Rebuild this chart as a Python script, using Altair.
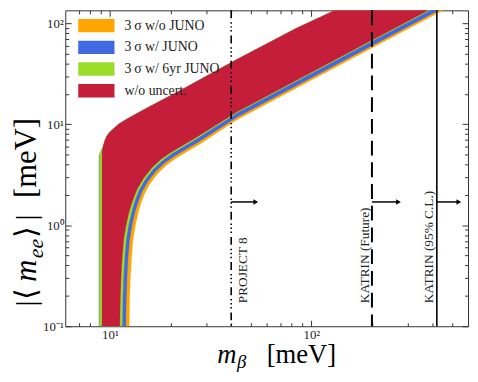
import altair as alt
import pandas as pd

# ---------------- data ----------------
band_names = ["3\u2009σ w/o JUNO", "3\u2009σ w/ JUNO", "3\u2009σ w/ 6yr JUNO", "w/o uncert."]
band_colors = ["#FFA500", "#4169E1", "#9BDC2A", "#C41E3A"]

# left (vertical) edge of every band and <m_ee> at its top-left corner
left_edge_m = [8.83, 8.83, 8.87, 9.14]
corner_mee = [4.94, 4.94, 5.0, 5.29]

# upper boundary (common to all bands)
upper_m = [9.26, 9.43, 9.67, 10.0, 10.46, 11.07, 12.4, 15.53, 21.79, 42.9, 84.4, 173.0]
upper_mee = [6.05, 6.85, 7.67, 8.39, 9.08, 10.05, 11.5, 14.73, 21.0, 43.9, 89.2, 173.2]

# lower boundaries
lower_m_red = [11.19, 11.26, 11.35, 11.49, 11.71, 12.05, 12.46, 12.96, 13.61, 14.68, 16.12, 17.98, 20.21, 23.05, 26.31, 42.9, 200.7, 601.6]
lower_mee_red = [0.1, 0.189, 0.297, 0.465, 0.73, 1.02, 1.37, 1.76, 2.25, 2.91, 3.69, 4.52, 5.32, 6.19, 7.2, 13.31, 68.2, 216.9]
lower_m_green = [11.51, 11.58, 11.67, 11.82, 12.05, 12.4, 12.82, 13.27, 13.9, 14.95, 16.38, 18.22, 20.4, 23.24, 26.5, 42.9, 200.7, 601.6]
lower_mee_green = [0.1, 0.189, 0.297, 0.465, 0.73, 1.023, 1.37, 1.727, 2.203, 2.84, 3.584, 4.378, 5.165, 6.025, 7.036, 13.01, 66.7, 212.1]
lower_m_blue = [11.98, 12.05, 12.15, 12.29, 12.53, 12.89, 13.34, 13.78, 14.41, 15.45, 16.86, 18.68, 20.85, 23.72, 27.1, 42.9, 200.7, 601.6]
lower_mee_blue = [0.1, 0.189, 0.297, 0.465, 0.73, 1.023, 1.37, 1.682, 2.128, 2.717, 3.398, 4.12, 4.826, 5.604, 6.541, 11.76, 60.3, 191.7]
lower_m_orange = [12.47, 12.53, 12.63, 12.79, 13.03, 13.41, 13.87, 14.24, 14.87, 15.89, 17.27, 19.05, 21.2, 24.07, 27.51, 42.9, 200.7, 601.6]
lower_mee_orange = [0.1, 0.189, 0.297, 0.465, 0.73, 1.023, 1.37, 1.643, 2.064, 2.616, 3.251, 3.923, 4.584, 5.328, 6.237, 11.12, 57.0, 181.9]

lower_m = [lower_m_orange, lower_m_blue, lower_m_green, lower_m_red]
lower_mee = [lower_mee_orange, lower_mee_blue, lower_mee_green, lower_mee_red]

# experimental limits
limit_names = ["PROJECT 8", "KATRIN (Future)", "KATRIN (95% C.L.)"]
limit_m = [40.0, 200.0, 420.0]
arrow_end_m = [53.0, 271.0, 540.0]
arrow_mee = 1.7
label_mee = 0.169

# ---------------- build polygons ----------------
rows = []
for k, name in enumerate(band_names):
    pts = [(left_edge_m[k], 0.1), (left_edge_m[k], corner_mee[k])]
    pts += [(m, v) for m, v in zip(upper_m, upper_mee) if m > left_edge_m[k]]
    pts += list(zip(lower_m[k], lower_mee[k]))[::-1]
    pts += [(left_edge_m[k], 0.1)]
    for i, (m, v) in enumerate(pts):
        rows.append({"band": name, "i": i, "m": m, "mee": v})
poly = pd.DataFrame(rows)

xs = alt.Scale(type="log", domain=[6, 600], nice=False)
ys = alt.Scale(type="log", domain=[0.1, 134], nice=False)

FONT = "Liberation Serif"
AX = "#333333"

x_major = [10, 100]
x_minor = [7, 8, 9, 20, 30, 40, 50, 60, 70, 80, 90, 200, 300, 400, 500]
y_major = [0.1, 1, 10, 100]
y_minor = [0.2, 0.3, 0.4, 0.5, 0.6, 0.7, 0.8, 0.9, 2, 3, 4, 5, 6, 7, 8, 9,
           20, 30, 40, 50, 60, 70, 80, 90]


def axis(orient, values, size, labels, expr=None):
    kw = dict(orient=orient, values=values, tickSize=size, offset=-size,
              domain=False, grid=False, labels=labels, title=None,
              tickColor=AX, tickWidth=1)
    if labels:
        kw.update(labelExpr=expr, labelFont=FONT, labelFontSize=13,
                  labelColor="#222222", labelPadding=2, labelFlush=False,
                  labelOverlap=False)
    return alt.Axis(**kw)


xexpr = "datum.value < 50 ? '10¹' : '10²'"
yexpr = "datum.value < 0.5 ? '10⁻¹' : datum.value < 5 ? '10⁰' : datum.value < 50 ? '10¹' : '10²'"

axes = [
    (axis("bottom", x_major, 6, True, xexpr), axis("left", y_major, 6, True, yexpr)),
    (axis("bottom", x_minor, 3.5, False), axis("left", y_minor, 3.5, False)),
    (axis("top", x_major, 6, False), axis("right", y_major, 6, False)),
    (axis("top", x_minor, 3.5, False), axis("right", y_minor, 3.5, False)),
]

layers = []
for k, name in enumerate(band_names):
    ax_x, ax_y = axes[k]
    layers.append(
        alt.Chart(poly[poly.band == name])
        .mark_line(fill=band_colors[k], stroke=band_colors[k], strokeWidth=0.3, clip=True)
        .encode(
            x=alt.X("m:Q", scale=xs, axis=ax_x),
            y=alt.Y("mee:Q", scale=ys, axis=ax_y),
            order=alt.Order("i:Q"),
        )
    )

# legend carrier (points lie outside the domain and are clipped)
leg_df = pd.DataFrame({"band": band_names, "m": [1.0] * 4, "mee": [1.0] * 4})
layers.append(
    alt.Chart(leg_df)
    .mark_square(size=10, opacity=1, clip=True)
    .encode(
        x=alt.X("m:Q", scale=xs, axis=None),
        y=alt.Y("mee:Q", scale=ys, axis=None),
        color=alt.Color(
            "band:N",
            scale=alt.Scale(domain=band_names, range=band_colors),
            legend=alt.Legend(
                title=None, orient="none", legendX=24.5, legendY=8.5,
                symbolType="M-2.7,-1H2.7V1H-2.7Z", symbolSize=185,
                symbolStrokeWidth=0, symbolOpacity=1,
                labelFont=FONT, labelFontSize=14, labelColor="#222222",
                labelOffset=21.5, rowPadding=8, padding=0, labelLimit=300,
            ),
        ),
    )
)

lim_df = pd.DataFrame({"name": limit_names, "m": limit_m, "end": arrow_end_m,
                       "y": [arrow_mee] * 3, "ly": [label_mee] * 3})
styles = [
    dict(strokeWidth=1.6, strokeDash=[8, 4, 1.5, 2.5, 1.5, 2.5, 1.5, 4]),
    dict(strokeWidth=2.0, strokeDash=[15, 7]),
    dict(strokeWidth=1.6),
]
label_dy = [16.4, -3.4, -4.0]
for k, name in enumerate(limit_names):
    d = lim_df[lim_df.name == name]
    layers.append(
        alt.Chart(d).mark_rule(color="black", **styles[k])
        .encode(x=alt.X("m:Q", scale=xs, axis=None))
    )
    layers.append(
        alt.Chart(d).mark_rule(color="black", strokeWidth=1.5)
        .encode(x=alt.X("m:Q", scale=xs, axis=None), x2="end:Q",
                y=alt.Y("y:Q", scale=ys, axis=None))
    )
    layers.append(
        alt.Chart(d).mark_point(shape="triangle-right", filled=True, size=30,
                                color="black", opacity=1)
        .encode(x=alt.X("end:Q", scale=xs, axis=None),
                y=alt.Y("y:Q", scale=ys, axis=None))
    )
    layers.append(
        alt.Chart(d).mark_text(angle=270, align="left", baseline="alphabetic",
                               font=FONT, fontSize=13.5, color="#222222",
                               dy=label_dy[k])
        .encode(x=alt.X("m:Q", scale=xs, axis=None),
                y=alt.Y("ly:Q", scale=ys, axis=None),
                text="name:N")
    )

one = pd.DataFrame({"a": [1]})


def title_piece(txt, px, py, size, italic=False, angle=0):
    kw = dict(align="left", baseline="alphabetic", font=FONT, fontSize=size,
              color="black", angle=angle)
    if italic:
        kw["fontStyle"] = "italic"
    return (alt.Chart(one).mark_text(**kw)
            .encode(x=alt.value(px), y=alt.value(py), text=alt.value(txt)))


# x title:  m_β [meV]
layers += [
    title_piece("m", 154, 357, 27, italic=True),
    title_piece("β", 174, 362, 19, italic=True),
    title_piece("[meV]", 204, 357, 27),
]
# y title: |<m_ee>| [meV]  (rotated)
YB = -30
layers += [
    title_piece("|", YB, 300, 30, angle=270),
    title_piece("⟨", YB, 293, 30, angle=270),
    title_piece("m", YB, 275, 31, italic=True, angle=270),
    title_piece("ee", YB + 7, 251, 22, italic=True, angle=270),
    title_piece("⟩", YB, 231, 30, angle=270),
    title_piece("|", YB, 213, 30, angle=270),
    title_piece("[meV]", YB, 190, 31, angle=270),
]

chart = (
    alt.layer(*layers)
    .resolve_axis(x="independent", y="independent")
    .properties(width=408, height=320,
                autosize=alt.AutoSizeParams(type="none"),
                padding={"left": 58, "top": 0, "right": 2, "bottom": 46})
    .configure_view(stroke=AX, strokeWidth=1)
)

chart.save("out.html", embed_options={"renderer": "svg", "actions": False})
